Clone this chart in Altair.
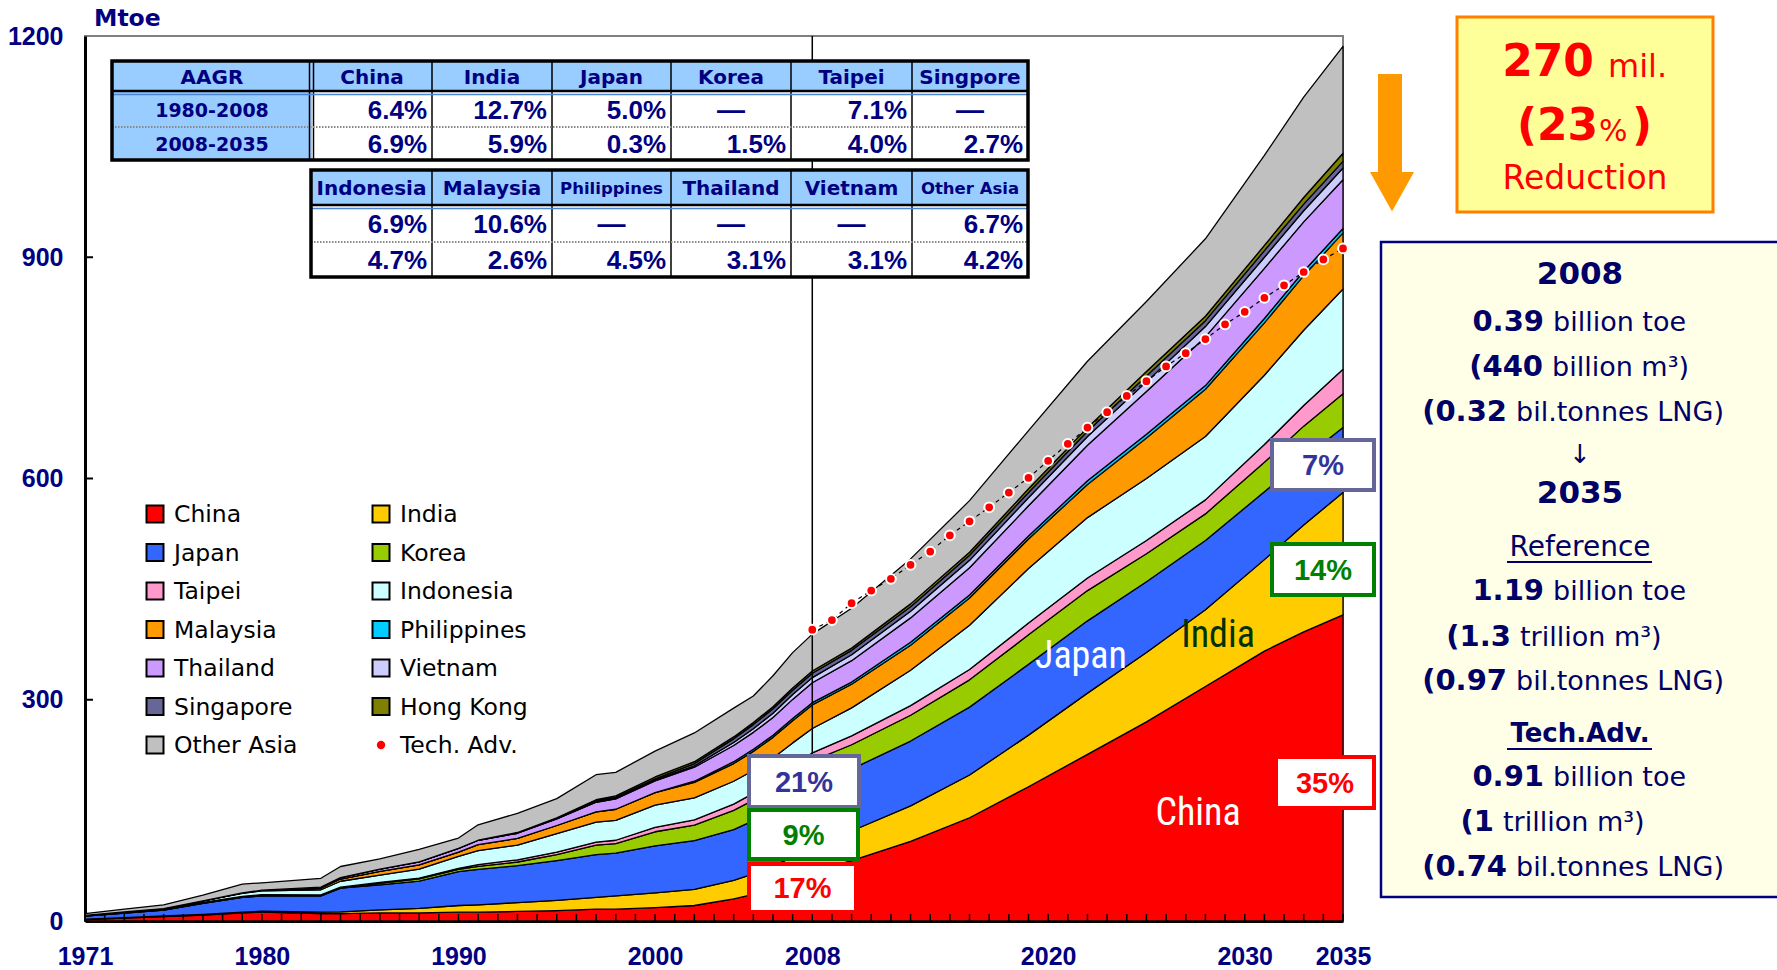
import altair as alt
import pandas as pd

# ---------------------------------------------------------------------------
# Natural gas demand in Asia, Mtoe (Reference scenario), stacked by economy
# ---------------------------------------------------------------------------
years = [1971, 1973, 1975, 1977, 1979, 1980, 1983, 1984, 1986, 1988, 1990, 1991,
         1993, 1995, 1997, 1998, 2000, 2002, 2004, 2005, 2006, 2007, 2008,
         2010, 2013, 2016, 2019, 2022, 2025, 2028, 2031, 2033, 2035]

china = [2, 4, 6, 8, 11, 12, 10, 10, 11, 11, 12, 12, 13, 14, 16, 16, 18, 21, 30, 36, 44, 55, 67,
         82, 108, 140, 182, 226, 270, 318, 366, 392, 415]
india = [0.5, 0.6, 0.8, 1, 1, 1.2, 2, 2.5, 4, 6, 9, 10, 12, 14, 16, 18, 20, 22, 25, 28, 30, 32, 35,
         40, 48, 58, 70, 83, 94, 104, 124, 145, 166]
japan = [4, 6, 8, 15, 20, 21, 22, 32, 34, 37, 46, 48, 50, 54, 58, 58, 64, 66, 69, 72, 76, 80, 82,
         84, 88, 92, 96, 98, 96, 94, 92, 90, 88]
korea = [0, 0, 0, 0, 0, 0, 0, 0, 2, 3, 3, 4, 5, 8, 13, 13, 19, 21, 26, 28, 29, 31, 33,
         33, 35, 37, 40, 41, 38, 36, 40, 44, 46]
taipei = [0.5, 0.8, 1, 1.3, 1.5, 1.6, 1.4, 1.4, 1.2, 1.2, 1.5, 2.5, 3, 3.5, 4, 4.5, 6, 7, 8.5, 9, 10, 10.5, 11,
          12, 13, 14, 16, 17, 18, 19, 24, 28, 33]
indonesia = [0.5, 0.8, 1, 2, 4, 5, 7, 8, 10, 12, 16, 19, 20, 25, 27, 27, 30, 30, 31, 31, 32, 33, 33,
             38, 48, 60, 74, 82, 84, 86, 94, 102, 109]
malaysia = [0, 0, 0, 0, 0.5, 1, 2, 3, 5, 6, 6, 8, 9, 11, 14, 15, 17, 21, 24, 26, 28, 30, 32,
            32, 34, 37, 40, 45, 55, 64, 71, 74, 76]
philippines = [0, 0, 0, 0, 0, 0, 0, 0, 0, 0, 0, 0, 0, 0, 0, 0, 0, 1.5, 2.5, 2.8, 2.8, 3, 3,
               3, 4, 4, 4, 5, 5, 5, 6, 6, 6]
thailand = [0, 0, 0, 0, 0, 0, 1.5, 2, 3, 4, 5, 6, 7, 9, 13, 14, 16, 19, 22, 23, 24, 26, 27,
            29, 33, 37, 41, 48, 58, 66, 68, 67, 66]
vietnam = [0, 0, 0, 0, 0, 0, 0, 0, 0, 0, 0, 0, 0, 0.2, 0.5, 0.6, 1.2, 2, 4, 5, 6, 6.5, 7,
           8, 9, 10, 11, 12, 13, 14, 15, 15, 16]
singapore = [0, 0, 0, 0, 0, 0, 0, 0, 0, 0, 0, 0, 1, 1.2, 1.4, 1.5, 1.6, 3, 5, 5.5, 6, 6, 6,
             6, 6, 7, 7, 7, 8, 8, 9, 9, 9]
hong_kong = [0, 0, 0, 0, 0, 0, 0, 0, 0, 0, 0, 0, 0, 0, 1.5, 2, 2.5, 2.5, 2.6, 2.7, 2.8, 2.9, 3,
             3, 4, 4, 5, 5, 6, 6, 7, 9, 11]
other_asia = [2.5, 3.8, 5.2, 7.7, 12, 10, 12, 15, 14, 17, 14, 21, 26, 26, 34, 32, 35, 39, 39, 36, 42, 48, 50,
              54, 61, 70, 79, 90, 95, 105, 122, 136, 145]

regions = ["China", "India", "Japan", "Korea", "Taipei", "Indonesia", "Malaysia",
           "Philippines", "Thailand", "Vietnam", "Singapore", "Hong Kong", "Other Asia"]
colors = ["#FF0000", "#FFCC00", "#3366FF", "#99CC00", "#FF99CC", "#CCFFFF", "#FF9900",
          "#00CCFF", "#CC99FF", "#CCCCFF", "#666699", "#808000", "#C0C0C0"]
series = [china, india, japan, korea, taipei, indonesia, malaysia, philippines,
          thailand, vietnam, singapore, hong_kong, other_asia]

# Technologically Advanced scenario, total demand
tech_years = list(range(2008, 2036))
tech_adv = [395, 408, 431, 448, 464, 483, 501, 523, 542, 561, 581, 601, 624, 647,
            669, 690, 712, 732, 752, 770, 789, 809, 826, 845, 862, 880, 897, 912]

x_label_years = [1971, 1980, 1990, 2000, 2008, 2020, 2030, 2035]
y_label_values = [0, 300, 600, 900, 1200]
tick_years = list(range(1971, 2036))
y_tick_values = [300, 600, 900]

# average annual growth rates
aagr_head1 = ["AAGR", "China", "India", "Japan", "Korea", "Taipei", "Singpore"]
aagr_periods = ["1980-2008", "2008-2035"]
aagr_row1a = ["6.4%", "12.7%", "5.0%", "—", "7.1%", "—"]
aagr_row1b = ["6.9%", "5.9%", "0.3%", "1.5%", "4.0%", "2.7%"]
aagr_head2 = ["Indonesia", "Malaysia", "Philippines", "Thailand", "Vietnam", "Other Asia"]
aagr_row2a = ["6.9%", "10.6%", "—", "—", "—", "6.7%"]
aagr_row2b = ["4.7%", "2.6%", "4.5%", "3.1%", "3.1%", "4.2%"]

# ---------------------------------------------------------------------------
# page geometry
# ---------------------------------------------------------------------------
W, H = 1777, 970
OX, OY = 85, 36          # plot origin on the page
PW, PH = 1258, 885       # plot size
NAVY = "#000080"
INK = "#000066"
SANS = "Liberation Sans"
WIDE = "DejaVu Sans"
NARROW = "Liberation Sans Narrow, Roboto Condensed, Liberation Sans"

rows = []
for k, (name, vals) in enumerate(zip(regions, series)):
    for yr, v in zip(years, vals):
        rows.append({"year": yr, "region": name, "value": v, "order": k})
df = pd.DataFrame(rows)

total = {yr: sum(s[i] for s in series) for i, yr in enumerate(years)}
tech_last = tech_adv[-1]

x_scale = alt.Scale(domain=[1971, 2035], nice=False, zero=False)
y_scale = alt.Scale(domain=[0, 1200], nice=False)
x_axis = alt.Axis(values=x_label_years, format="d", title=None, grid=False, ticks=False,
                  labelPadding=23, labelFont=SANS, labelFontWeight="bold", labelFontSize=25,
                  labelColor=NAVY, labelFlush=False, labelOverlap=False,
                  domainColor="black", domainWidth=3)
y_axis = alt.Axis(values=y_label_values, format="d", title=None, grid=False, ticks=False,
                  labelPadding=22, labelFont=SANS, labelFontWeight="bold", labelFontSize=25,
                  labelColor=NAVY, labelFlush=False, labelOverlap=False,
                  domainColor="black", domainWidth=3)
X = alt.X("year:Q", scale=x_scale, axis=x_axis)


def Yq(stack=None):
    if stack:
        return alt.Y("value:Q", scale=y_scale, axis=y_axis, stack=stack)
    return alt.Y("value:Q", scale=y_scale, axis=y_axis)


# ---------------------------------------------------------------------------
# helpers for page-positioned decorations
# ---------------------------------------------------------------------------
def _frame(recs, cols):
    d = pd.DataFrame(recs, columns=cols)
    for c in cols:
        if c in ("x", "x2"):
            d[c] = d[c] - OX
        if c in ("y", "y2"):
            d[c] = d[c] - OY
    return d


def text_layer(recs, **mark):
    d = _frame(recs, ["x", "y", "t"])
    mark.setdefault("baseline", "middle")
    return alt.Chart(d).mark_text(**mark).encode(
        x=alt.X("x:Q", scale=None), y=alt.Y("y:Q", scale=None), text="t:N")


def rect_layer(recs, colored=False, **mark):
    cols = ["x", "x2", "y", "y2"] + (["c"] if colored else [])
    d = _frame(recs, cols)
    enc = dict(x=alt.X("x:Q", scale=None), x2=alt.X2("x2"),
               y=alt.Y("y:Q", scale=None), y2=alt.Y2("y2"))
    if colored:
        enc["fill"] = alt.Fill("c:N", scale=None)
    return alt.Chart(d).mark_rect(**mark).encode(**enc)


def rule_layer(recs, **mark):
    d = _frame(recs, ["x", "x2", "y", "y2"])
    return alt.Chart(d).mark_rule(**mark).encode(
        x=alt.X("x:Q", scale=None), x2=alt.X2("x2"),
        y=alt.Y("y:Q", scale=None), y2=alt.Y2("y2"))


layers = []

# stacked areas
layers.append(
    alt.Chart(df).mark_area(stroke="black", strokeWidth=1.3, strokeJoin="round", opacity=1).encode(
        x=X, y=Yq("zero"),
        color=alt.Color("region:N", scale=alt.Scale(domain=regions, range=colors), legend=None),
        order=alt.Order("order:Q", sort="ascending"))
)

# 2008 divider
layers.append(
    alt.Chart(pd.DataFrame({"year": [2008]})).mark_rule(color="black", strokeWidth=1.5).encode(
        x=X, y=alt.value(0), y2=alt.value(756 - OY))
)

# inward ticks
layers.append(
    alt.Chart(pd.DataFrame({"year": tick_years})).mark_rule(color="black", strokeWidth=1.5).encode(
        x=X, y=alt.value(PH), y2=alt.value(PH - 7))
)
layers.append(
    alt.Chart(pd.DataFrame({"value": y_tick_values})).mark_rule(color="black", strokeWidth=2).encode(
        y=Yq(), x=alt.value(0), x2=alt.value(8))
)

# Tech. Adv. scenario
tdf = pd.DataFrame({"year": tech_years, "value": tech_adv})
layers.append(alt.Chart(tdf).mark_line(color="black", strokeWidth=1.2, strokeDash=[4, 4]).encode(x=X, y=Yq()))
layers.append(alt.Chart(tdf).mark_circle(color="#FF0000", stroke="white", strokeWidth=2,
                                         size=95, opacity=1).encode(x=X, y=Yq()))

# ---------------------------------------------------------------------------
# AAGR tables
# ---------------------------------------------------------------------------
BLUE_CELL = "#99CCFF"
T1C = [112, 312, 432, 552, 671, 791, 912, 1028]
T1R = [61, 92, 127, 160]
T2C = [311, 432, 552, 671, 791, 912, 1028]
T2R = [170, 206, 242, 277]

cells = []
for r in range(3):
    for c in range(7):
        fill = BLUE_CELL if (r == 0 or c == 0) else "white"
        cells.append((T1C[c], T1C[c + 1], T1R[r], T1R[r + 1], fill))
for r in range(3):
    for c in range(6):
        fill = BLUE_CELL if r == 0 else "white"
        cells.append((T2C[c], T2C[c + 1], T2R[r], T2R[r + 1], fill))
layers.append(rect_layer(cells, colored=True))

vlines = [(x, x, T1R[0], T1R[3]) for x in T1C[2:7]] + [(309.5, 309.5, T1R[0], T1R[3]),
                                                      (313.5, 313.5, T1R[0], T1R[3])]
vlines += [(x, x, T2R[0], T2R[3]) for x in T2C[1:6]]
layers.append(rule_layer(vlines, color="black", strokeWidth=1.5))
layers.append(rule_layer([(T1C[0], T1C[-1], 91, 91), (T2C[0], T2C[-1], 205, 205)],
                         color="black", strokeWidth=2.5))
layers.append(rule_layer([(T1C[0], T1C[-1], 94.5, 94.5), (T2C[0], T2C[-1], 208.5, 208.5)],
                         color="#4A86D8", strokeWidth=1.5))
layers.append(rule_layer([(T1C[0], T1C[-1], 127, 127), (T2C[0], T2C[-1], 242, 242)],
                         color="#888888", strokeWidth=2, strokeDash=[1.5, 1.5]))
layers.append(rect_layer([(T1C[0], T1C[-1], T1R[0], T1R[3]), (T2C[0], T2C[-1], T2R[0], T2R[3])],
                         fillOpacity=0, stroke="black", strokeWidth=3.5))


def mid(a, b):
    return (a + b) / 2


head_std, head_small = [], []
for c, t in enumerate(aagr_head1):
    head_std.append((mid(T1C[c], T1C[c + 1]), mid(T1R[0], T1R[1]) + 1, t))
for c, t in enumerate(aagr_head2):
    rec = (mid(T2C[c], T2C[c + 1]), mid(T2R[0], T2R[1]) + 1, t)
    (head_small if t in ("Philippines", "Other Asia") else head_std).append(rec)
layers.append(text_layer(head_std, align="center", font=WIDE, fontWeight="bold", fontSize=20, color=NAVY))
layers.append(text_layer(head_small, align="center", font=WIDE, fontWeight="bold", fontSize=16.5, color=NAVY))
layers.append(text_layer([(mid(T1C[0], T1C[1]), mid(T1R[1], T1R[2]) + 1, aagr_periods[0]),
                          (mid(T1C[0], T1C[1]), mid(T1R[2], T1R[3]) + 1, aagr_periods[1])],
                         align="center", font=WIDE, fontWeight="bold", fontSize=19, color=NAVY))

vals_right, vals_dash = [], []
for cols, rws, row_vals, first in ((T1C, T1R, [aagr_row1a, aagr_row1b], 1),
                                   (T2C, T2R, [aagr_row2a, aagr_row2b], 0)):
    for r, vals in enumerate(row_vals):
        yc = mid(rws[r + 1], rws[r + 2]) + 1
        for c, t in enumerate(vals):
            c0 = c + first
            if t == "—":
                vals_dash.append((mid(cols[c0], cols[c0 + 1]), yc, t))
            else:
                vals_right.append((cols[c0 + 1] - 5, yc, t))
layers.append(text_layer(vals_right, align="right", font=SANS, fontWeight="bold", fontSize=26, color=NAVY))
layers.append(text_layer(vals_dash, align="center", font=SANS, fontWeight="bold", fontSize=28, color=NAVY))

# ---------------------------------------------------------------------------
# legend
# ---------------------------------------------------------------------------
LEG_X = [155, 381]
LEG_Y0, LEG_DY = 514, 38.5
leg_sq, leg_txt = [], []
for k, (name, col) in enumerate(zip(regions, colors)):
    cx, cy = LEG_X[k % 2], LEG_Y0 + LEG_DY * (k // 2)
    leg_sq.append((cx - 8.5, cx + 8.5, cy - 8.5, cy + 8.5, col))
    leg_txt.append((cx + 19, cy + 1, name))
k = len(regions)
dot_x, dot_y = LEG_X[k % 2], LEG_Y0 + LEG_DY * (k // 2)
leg_txt.append((dot_x + 19, dot_y + 1, "Tech. Adv."))
layers.append(rect_layer(leg_sq, colored=True, stroke="black", strokeWidth=2))
layers.append(text_layer(leg_txt, align="left", font=WIDE, fontSize=23.5, color="black"))
layers.append(alt.Chart(pd.DataFrame({"a": [0]})).mark_circle(color="#FF0000", size=70, opacity=1).encode(
    x=alt.value(dot_x - OX), y=alt.value(dot_y - OY)))

# ---------------------------------------------------------------------------
# labels inside the stack
# ---------------------------------------------------------------------------
layers.append(text_layer([(1081, 657, "Japan"), (1198, 814, "China")],
                         align="center", font=NARROW, fontSize=38, color="white"))
layers.append(text_layer([(1218, 636, "India")], align="center", font=NARROW, fontSize=38, color="#003300"))

# share boxes (computed from the stack)
i08, i35 = years.index(2008), years.index(2035)


def share(vals, i, yr):
    return f"{round(100 * vals[i] / total[yr])}%"


boxes = [
    (share(japan, i08, 2008), "#666699", "#333399", 749, 859, 756, 807),
    (share(india, i08, 2008), "#008000", "#008000", 749, 858, 810, 859),
    (share(china, i08, 2008), "#FF0000", "#FF0000", 749, 856, 864, 912),
    (share(japan, i35, 2035), "#666699", "#333399", 1272, 1374, 440, 490),
    (share(india, i35, 2035), "#008000", "#008000", 1272, 1374, 544, 595),
    (share(china, i35, 2035), "#FF0000", "#FF0000", 1276, 1374, 757, 808),
]
for label, edge, ink, x0, x1, y0, y1 in boxes:
    layers.append(rect_layer([(x0, x1, y0, y1)], fill="white", stroke=edge, strokeWidth=4))
    layers.append(text_layer([(mid(x0, x1), mid(y0, y1) + 1, label)], align="center",
                             font=SANS, fontWeight="bold", fontSize=29, color=ink))

# axis unit
layers.append(text_layer([(94, 19, "Mtoe")], align="left", font=WIDE, fontWeight="bold",
                         fontSize=23.5, color=NAVY))

# ---------------------------------------------------------------------------
# right-hand panels
# ---------------------------------------------------------------------------
ORANGE = "#FF9900"
layers.append(rect_layer([(1378, 1402, 74, 173)], fill=ORANGE))
layers.append(alt.Chart(pd.DataFrame({"a": [0]})).mark_point(
    shape="M-1,-0.9L1,-0.9L0,0.9Z", size=1936, filled=True, color=ORANGE, opacity=1, strokeWidth=0
).encode(x=alt.value(1392 - OX), y=alt.value(191.8 - OY)))

# reduction box
total_2035 = total[2035]
cut = total_2035 - tech_last
cut_pct = round(100 * cut / total_2035)
layers.append(rect_layer([(1457, 1713, 17, 212)], fill="#FFFF99", stroke="#FF7F00", strokeWidth=3))
RED = "#FF0000"
layers.append(text_layer([(1594, 63, f"{int(round(cut, -1))}")], align="right", font=WIDE,
                         fontWeight="bold", fontSize=44, color=RED))
layers.append(text_layer([(1608, 67, "mil.")], align="left", font=WIDE, fontSize=32, color=RED))
layers.append(text_layer([(1517, 127, "("), (1537, 127, f"{cut_pct}"), (1632, 127, ")")],
                         align="left", font=WIDE, fontWeight="bold", fontSize=44, color=RED))
layers.append(text_layer([(1599, 132, "%")], align="left", font=WIDE, fontSize=30, color=RED))
layers.append(text_layer([(1585, 179, "Reduction")], align="center", font=WIDE, fontSize=33, color=RED))

# summary box
layers.append(rect_layer([(1381, 1795, 242, 897)], fill="#FFFFE8", stroke=NAVY, strokeWidth=2.5))
CX = 1580
layers.append(text_layer([(CX, 275, "2008"), (CX, 494, "2035")], align="center", font=WIDE,
                         fontWeight="bold", fontSize=31, color=INK))
layers.append(text_layer([(CX, 455, "↓")], align="center", font=WIDE, fontSize=26, color=INK))
layers.append(text_layer([(CX, 548, "Reference")], align="center", font=WIDE, fontSize=28, color=INK))
layers.append(text_layer([(CX, 734, "Tech.Adv.")], align="center", font=WIDE, fontWeight="bold",
                         fontSize=26, color=INK))
layers.append(rule_layer([(1507, 1652, 562, 562), (1507, 1652, 749, 749)], color=INK, strokeWidth=2))

pairs = [
    (f"{total[2008] / 1000:.2f}", "billion toe", 322, 1548),
    ("(440", "billion m³)", 367, 1547),
    ("(0.32", "bil.tonnes LNG)", 412, 1511),
    (f"{total_2035 / 1000:.2f}", "billion toe", 591, 1548),
    ("(1.3", "trillion m³)", 637, 1515),
    ("(0.97", "bil.tonnes LNG)", 681, 1511),
    (f"{tech_last / 1000:.2f}", "billion toe", 777, 1548),
    ("(1", "trillion m³)", 822, 1498),
    ("(0.74", "bil.tonnes LNG)", 867, 1511),
]
layers.append(text_layer([(sx - 4, y, b) for b, _, y, sx in pairs], align="right", font=WIDE,
                         fontWeight="bold", fontSize=29, color=INK))
layers.append(text_layer([(sx + 5, y + 1, t) for _, t, y, sx in pairs], align="left", font=WIDE,
                         fontSize=27, color=INK))

chart = alt.layer(*layers).properties(
    width=PW, height=PH,
    padding={"left": OX, "top": OY, "right": W - OX - PW, "bottom": H - OY - PH},
    autosize=alt.AutoSizeParams(type="none"),
    background="white",
).configure_view(stroke="#808080", strokeWidth=2)

chart.save("out.html", embed_options={"renderer": "svg", "actions": False})
